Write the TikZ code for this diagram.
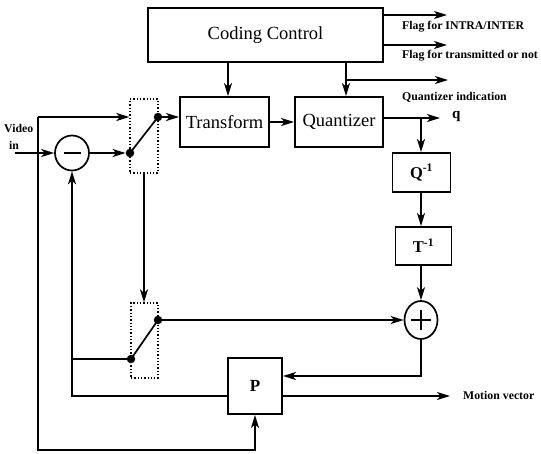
\documentclass[tikz,border=0pt]{standalone}
\usepackage{fontspec}
\setmainfont{Liberation Serif}
\usetikzlibrary{arrows.meta,shapes.geometric}
\begin{document}
\begin{tikzpicture}[x=1pt,y=-1pt,
  wire/.style={line width=1.7pt},
  arr/.style={wire,-{Stealth[length=13pt,width=8pt,inset=3.5pt]}},
  blk/.style={draw,line width=1.9pt,inner sep=0pt},
  big/.style={font=\fontsize{18.5}{20}\selectfont},
  lbl/.style={font=\bfseries\fontsize{11.8}{13}\selectfont,anchor=west,inner sep=0pt},
  dot/.style={circle,fill,inner sep=0pt,minimum size=8.5pt},
  swbox/.style={draw,dotted,line width=1.3pt,inner sep=0pt},
  sumnode/.style={draw,ellipse,line width=1.7pt,inner sep=0pt}]
\useasboundingbox (0,0) rectangle (541,453);
\clip (0,0) rectangle (541,453);

% blocks
\node[blk,big,minimum width=235pt,minimum height=54pt] (cc) at (265.5,35) {Coding Control};
\node[blk,big,minimum width=89pt,minimum height=50pt] (tr) at (224.5,122) {Transform};
\node[blk,big,minimum width=88pt,minimum height=50pt] (qu) at (339,122) {Quantizer};
\node[blk,minimum width=58pt,minimum height=39pt,font=\bfseries\fontsize{16.5}{18}\selectfont] (iq) at (421.5,172.5) {Q\textsuperscript{-1}};
\node[blk,minimum width=56pt,minimum height=38pt,font=\bfseries\fontsize{16.5}{18}\selectfont] (it) at (423.5,246) {T\textsuperscript{-1}};
\node[blk,minimum width=54pt,minimum height=56pt,font=\bfseries\fontsize{17}{18}\selectfont] (P) at (255,386) {P};

% summing junctions
\node[sumnode,minimum width=34pt,minimum height=35pt] (sub) at (72,153) {};
\draw[wire] (63.5,153) -- (80.5,153);
\node[sumnode,minimum width=33pt,minimum height=38pt] (add) at (421,320) {};
\draw[wire] (411,320) -- (431,320) (421,310) -- (421,330);

% switches
\node[swbox,minimum width=28pt,minimum height=74pt] (s1) at (144,136) {};
\node[swbox,minimum width=27pt,minimum height=75pt] (s2) at (144.5,340.5) {};
\node[dot] (s1a) at (130,153) {};
\node[dot] (s1b) at (158,117) {};
\node[dot] (s2a) at (131,359) {};
\node[dot] (s2b) at (158,320) {};
\draw[wire] (s1a.center) -- (s1b.center);
\draw[wire] (s2a.center) -- (s2b.center);

% labels
\node[lbl] (lf1) at (402,27) {Flag for INTRA/INTER};
\node[lbl] (lf2) at (402,56) {Flag for transmitted or not};
\node[lbl] (lqi) at (402,97) {Quantizer indication};
\node[lbl,font=\bfseries\fontsize{15}{16}\selectfont] (lq) at (452,116) {q};
\node[lbl] (lmv) at (463,395) {Motion vector};
\node[lbl] (lv1) at (4,128) {Video};
\node[lbl] (lv2) at (9,145) {in};

\coordinate (vin) at (15,153);
\coordinate (vtop) at (38,117);

% connectors
\draw[arr] (cc.east |- 0,15) -- (447,15);
\draw[arr] (cc.east |- 0,45) -- (447,45);
\draw[arr] (cc.south -| 228,0) -- (tr.north -| 228,0);
\draw[arr] (cc.south -| 346,0) -- (qu.north -| 346,0);
\draw[arr] (346,80) -- (448,80);
\draw[arr] (tr.east) -- (qu.west);
\draw[arr] (qu.east |- 0,118) -- (440,118);
\draw[arr] (421,118) -- (iq.north -| 421,0);
\draw[arr] (iq.south -| 421,0) -- (it.north -| 421,0);
\draw[arr] (it.south -| 421,0) -- (add.north);
\draw[arr] (add.south) |- (P.east |- 0,376);
\draw[arr] (P.east |- 0,396) -- (450,396);
\draw[arr] (P.west |- 0,396) -| (sub.south);
\draw[wire] (s2a.center) -- (72,359);
\draw[arr] (s2b) -- (add.west);
\draw[arr] (s1.south) -- (s2.north -| s1.south);
\draw[arr] (sub.east) -- (s1a);
\draw[arr] (s1b) -- (tr.west |- s1b);
\draw[arr] (vin) -- (sub.west);
\draw[arr] (vtop) -- (s1.west |- vtop);
\draw[arr] (vtop) -- (38,450) -| (P.south);
\end{tikzpicture}
\end{document}
